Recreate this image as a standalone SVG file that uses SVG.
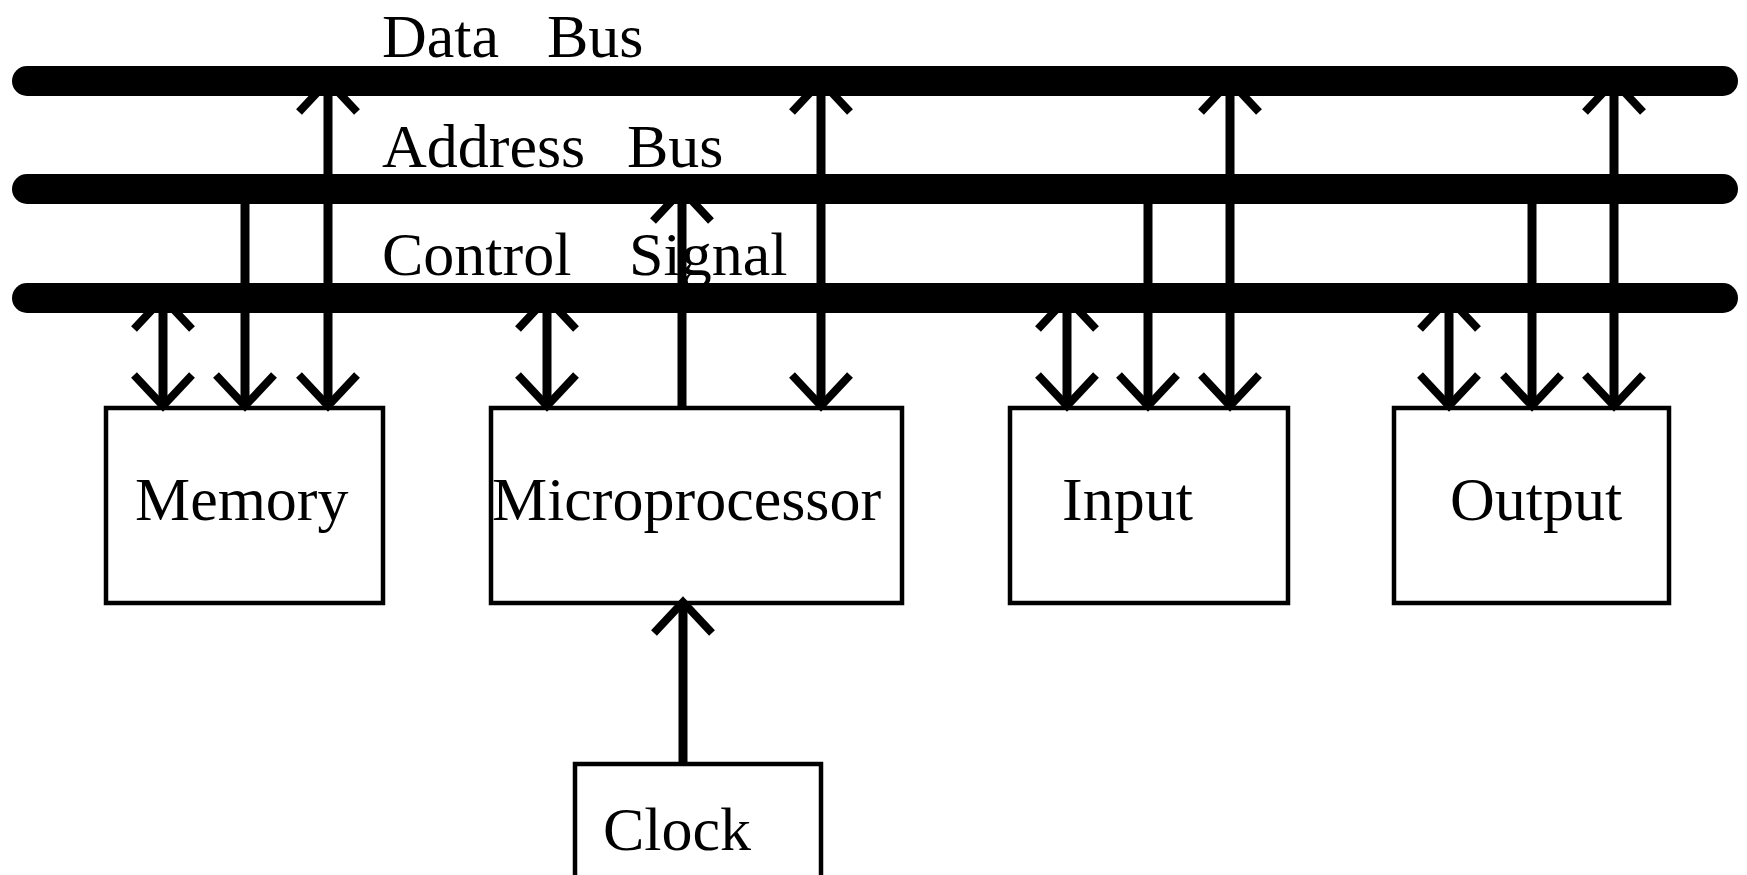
<svg xmlns="http://www.w3.org/2000/svg" width="1747" height="875" viewBox="0 0 1747 875">
<style>
.bus{stroke:#000;stroke-width:30;stroke-linecap:round;fill:none}
.box{fill:#fff;stroke:#000;stroke-width:4.5}
.lbl{font-family:"Liberation Serif","Times New Roman",serif;font-size:62px;fill:#000}
.cn{stroke:#000;stroke-width:9;fill:none}
.bi{marker-start:url(#ah);marker-end:url(#ah)}
.un{marker-end:url(#ah)}
</style>
<defs>
<marker id="ah" markerUnits="userSpaceOnUse" orient="auto-start-reverse" refX="0" refY="0" markerWidth="80" markerHeight="80" viewBox="-40 -40 80 80" style="overflow:visible">
<path d="M-31,-29 L0,0 L-31,29" fill="none" stroke="#000" stroke-width="8" stroke-linejoin="miter"/>
</marker>
</defs>
<g id="buses">
<line class="bus" x1="27" y1="81" x2="1723" y2="81"/>
<line class="bus" x1="27" y1="189" x2="1723" y2="189"/>
<line class="bus" x1="27" y1="298" x2="1723" y2="298"/>
<text class="lbl" x="382" y="57">Data</text>
<text class="lbl" x="547" y="57">Bus</text>
<text class="lbl" x="382" y="167">Address</text>
<text class="lbl" x="627" y="167">Bus</text>
<text class="lbl" x="382" y="275">Control</text>
<text class="lbl" x="629" y="275">Signal</text>
</g>
<g id="memory">
<rect class="box" x="106" y="408" width="277" height="195"/>
<text class="lbl" x="135" y="520">Memory</text>
</g>
<g id="microprocessor">
<rect class="box" x="491" y="408" width="411" height="195"/>
<text class="lbl" x="492" y="520">Microprocessor</text>
</g>
<g id="input">
<rect class="box" x="1010" y="408" width="278" height="195"/>
<text class="lbl" x="1062" y="520">Input</text>
</g>
<g id="output">
<rect class="box" x="1394" y="408" width="275" height="195"/>
<text class="lbl" x="1450" y="520">Output</text>
</g>
<g id="clock">
<rect class="box" x="575" y="764" width="246" height="130"/>
<text class="lbl" x="603" y="850">Clock</text>
</g>
<g id="connectors">
<path class="cn bi" d="M163,298 L163,406"/>
<path class="cn un" d="M245,189 L245,406"/>
<path class="cn bi" d="M328,81 L328,406"/>
<path class="cn bi" d="M547,298 L547,406"/>
<path class="cn un" d="M682,408 L682,190"/>
<path class="cn bi" d="M821,81 L821,406"/>
<path class="cn bi" d="M1067,298 L1067,406"/>
<path class="cn un" d="M1148,189 L1148,406"/>
<path class="cn bi" d="M1230,81 L1230,406"/>
<path class="cn bi" d="M1449,298 L1449,406"/>
<path class="cn un" d="M1532,189 L1532,406"/>
<path class="cn bi" d="M1614,81 L1614,406"/>
<path class="cn un" d="M683,764 L683,602"/>
</g>
</svg>
